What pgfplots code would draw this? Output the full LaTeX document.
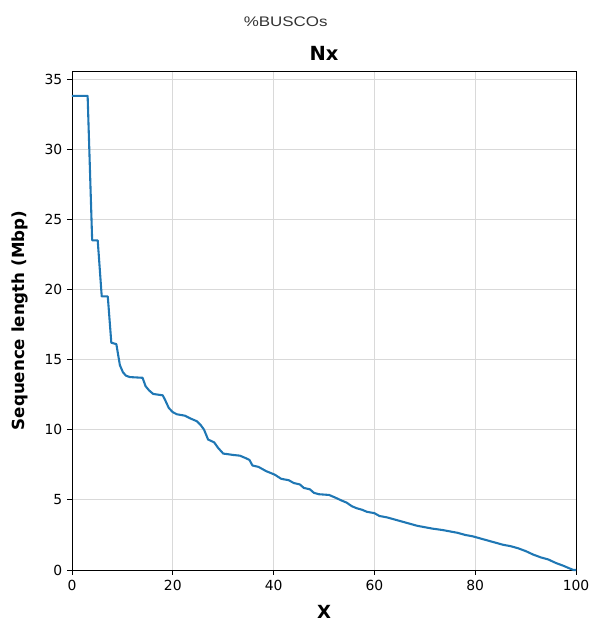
\documentclass[border=0pt]{standalone}
\usepackage{graphicx}
\usepackage{pgfplots}
\pgfplotsset{compat=1.18}
\usepackage{fontspec}
\setmainfont{DejaVu Sans}
\newfontfamily\arialfont{Liberation Sans}
\definecolor{mplblue}{HTML}{1F77B4}
\begin{document}
\begin{tikzpicture}
\path[use as bounding box] (-51.84pt,-41.04pt) rectangle (384.5pt,410.4pt);
\begin{axis}[
  at={(0,0)}, anchor=origin,
  scale only axis,
  width=362.9pt, height=359.3pt,
  xmin=0, xmax=100, ymin=0, ymax=35.57,
  xtick={0,20,40,60,80,100},
  ytick={0,5,10,15,20,25,30,35},
  tick align=outside,
  tick pos=left,
  major tick length=3.5pt,
  tick style={black, line width=0.6pt},
  axis line style={black, line width=0.6pt},
  grid=major,
  major grid style={gray!30, line width=0.6pt},
  /pgf/number format/assume math mode=true,
  ticklabel style={font=\fontsize{10}{12}\selectfont},
  xlabel={\textbf{X}},
  ylabel={\textbf{Sequence length (Mbp)}},
  xlabel style={font=\fontsize{13}{15}\selectfont, at={(axis description cs:0.5,0)}, anchor=north, yshift=-22pt},
  ylabel style={font=\fontsize{12}{14}\selectfont, at={(axis description cs:0,0.5)}, anchor=south, yshift=28pt},
  clip=false,
]
\addplot[mplblue, line width=1.5pt, line join=round] coordinates {
(0,33.8) (3.1,33.8) (4.0,23.5) (5.1,23.5) (5.9,19.5) (7.1,19.5) (7.8,16.2) (8.8,16.1)
(9.5,14.6) (10.1,14.1) (10.7,13.85) (11.5,13.75) (14.0,13.7) (14.6,13.1) (15.3,12.8)
(16.1,12.55) (18.0,12.45) (18.5,12.1) (19.2,11.55) (20.0,11.25) (20.8,11.1) (22.4,11.0)
(23.5,10.8) (24.8,10.6) (25.6,10.3) (26.2,10.0) (27.0,9.3) (28.2,9.1) (29.0,8.7)
(30.0,8.3) (31.0,8.25) (32.0,8.2) (33.3,8.15) (34.3,8.0) (35.2,7.85) (35.8,7.45)
(37.0,7.35) (38.5,7.05) (40.2,6.8) (41.5,6.5) (43.0,6.4) (44.0,6.2) (45.2,6.1)
(46.0,5.85) (47.2,5.75) (48.0,5.5) (49.0,5.4) (51.0,5.35) (52.3,5.15) (53.5,4.95)
(54.5,4.8) (55.5,4.55) (56.5,4.4) (57.5,4.3) (58.5,4.15) (60.0,4.05) (61.0,3.85)
(62.5,3.75) (64.0,3.6) (65.5,3.45) (67.0,3.3) (68.5,3.15) (70.0,3.05) (71.5,2.95)
(73.5,2.85) (75.0,2.75) (76.5,2.65) (78.0,2.5) (79.5,2.4) (81.0,2.25) (82.5,2.1)
(84.0,1.95) (85.5,1.8) (87.0,1.7) (88.5,1.55) (90.0,1.35) (91.5,1.1) (93.0,0.9)
(94.5,0.75) (96.0,0.5) (97.5,0.3) (98.8,0.1) (99.5,0.0) (100,0.0)
};
\node[anchor=base, font=\fontsize{14}{16}\selectfont\bfseries] at (rel axis cs:0.5,1) [yshift=7.5pt] {Nx};
\node[anchor=base, inner sep=0pt, font=\arialfont\fontsize{10}{12}\selectfont, text=black!80] at (rel axis cs:0.424,1) [yshift=32pt] {\scalebox{1.22}[1]{\%BUSCOs}};
\end{axis}
\end{tikzpicture}
\end{document}
